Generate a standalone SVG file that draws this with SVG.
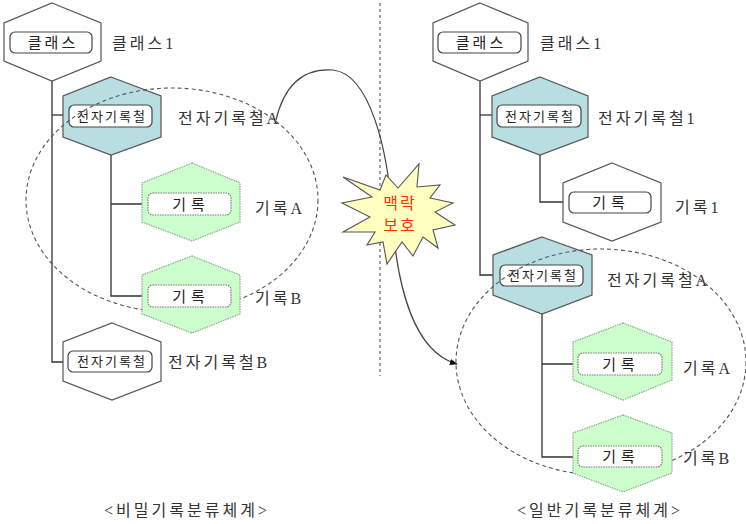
<svg xmlns="http://www.w3.org/2000/svg" width="746" height="524" viewBox="0 0 746 524">
<style>
.hex{fill:#ffffff;stroke:#555;stroke-width:1.2}
.teal{fill:#b8dee2;stroke:#555;stroke-width:1.2}
.green{fill:#ccffcc;stroke:#8aa88a;stroke-width:1.2;stroke-dasharray:1.5 1}
.box{fill:#fff;stroke:#444;stroke-width:1.2}
.gbox{fill:#fff;stroke:#777;stroke-width:1.2;stroke-dasharray:1.5 1}
.lbl{font-family:"Liberation Serif","Noto Sans CJK KR",serif;font-size:16px;fill:#333;letter-spacing:3px}
.bt{font-family:"Noto Sans CJK KR",sans-serif;font-size:15px;fill:#222;text-anchor:middle}
.bs{font-family:"Noto Sans CJK KR",sans-serif;font-size:13px;fill:#222;text-anchor:middle;letter-spacing:2px}
.con{fill:none;stroke:#333;stroke-width:1.3}
.ell{fill:none;stroke:#555;stroke-width:1.1;stroke-dasharray:4 3}
.cap{font-family:"Liberation Serif","Noto Sans CJK KR",serif;font-size:16px;fill:#333;letter-spacing:3px;text-anchor:middle}
.red{font-family:"Noto Sans CJK KR",sans-serif;font-size:16px;fill:#ff3300;text-anchor:middle;letter-spacing:2px}
</style>
<defs>
<marker id="arr" viewBox="0 0 10 10" refX="9" refY="5" markerWidth="8" markerHeight="8" orient="auto" markerUnits="userSpaceOnUse">
<path d="M0,1 L10,5 L0,9 Z" fill="#111"/>
</marker>
</defs>
<rect width="746" height="524" fill="#fff"/>

<line x1="380" y1="3" x2="380" y2="376" stroke="#666" stroke-width="1.2" stroke-dasharray="3 3"/>

<g id="connectors">
<path class="con" d="M52,53 V362 H68"/>
<path class="con" d="M52,115 H69"/>
<path class="con" d="M111,127 V296 H148"/>
<path class="con" d="M111,204 H148"/>
<path class="con" d="M480,53 V275 H500"/>
<path class="con" d="M480,115 H497"/>
<path class="con" d="M540,127 V202 H569"/>
<path class="con" d="M542,286 V457 H578"/>
<path class="con" d="M542,364 H578"/>
<path fill="none" stroke="#444" stroke-width="1.2" d="M276,120 C285,82 305,68 333,70 C370,74 388,150 392,215 C397,290 415,352 457,364" marker-end="url(#arr)"/>
</g>

<g id="left-class">
<polygon class="hex" points="52,3 101,23 101,61 52,81 4,61 4,23"/>
<rect class="box" x="10" y="32" width="82" height="21" rx="5"/>
<text class="bt" x="53" y="48" style="letter-spacing:3px">클래스</text>
<text class="lbl" x="112" y="49">클래스1</text>
</g>

<g id="left-fileA">
<polygon class="teal" points="111,77 161,96 161,137 111,155 63,137 63,96"/>
<rect class="box" x="69" y="105" width="83" height="22" rx="5"/>
<text class="bs" x="112" y="120.5">전자기록철</text>
<text class="lbl" x="178" y="124">전자기록철A</text>
</g>

<ellipse id="left-ellipse" class="ell" cx="172" cy="200" rx="146" ry="112"/>

<g id="left-recordA">
<polygon class="green" points="192,163 240,183 240,222 192,241 142,222 142,183"/>
<rect class="gbox" x="148" y="193" width="83" height="22" rx="5"/>
<text class="bt" x="191" y="209.5" style="letter-spacing:5px">기록</text>
<text class="lbl" x="255" y="214">기록A</text>
</g>

<g id="left-recordB">
<polygon class="green" points="192,256 240,275 240,314 192,333 142,314 142,275"/>
<rect class="gbox" x="148" y="285" width="83" height="22" rx="5"/>
<text class="bt" x="191" y="301.5" style="letter-spacing:5px">기록</text>
<text class="lbl" x="255" y="304">기록B</text>
</g>

<g id="left-fileB">
<polygon class="hex" points="112,323 161,342 161,381 112,400 63,381 63,342"/>
<rect class="box" x="68" y="351" width="84" height="21" rx="5"/>
<text class="bs" x="112" y="366">전자기록철</text>
<text class="lbl" x="168" y="368">전자기록철B</text>
</g>

<text id="left-caption" class="cap" x="187" y="516">&lt;비밀기록분류체계&gt;</text>

<g id="right-class">
<polygon class="hex" points="480,3 528,23 528,61 480,81 433,61 433,23"/>
<rect class="box" x="438" y="32" width="83" height="21" rx="5"/>
<text class="bt" x="481" y="48" style="letter-spacing:3px">클래스</text>
<text class="lbl" x="540" y="49">클래스1</text>
</g>

<g id="right-file1">
<polygon class="teal" points="540,77 588,96 588,137 540,155 492,137 492,96"/>
<rect class="box" x="497" y="105" width="84" height="22" rx="5"/>
<text class="bs" x="540" y="120.5">전자기록철</text>
<text class="lbl" x="598" y="124">전자기록철1</text>
</g>

<g id="right-record1">
<polygon class="hex" points="612,163 661,183 661,222 612,241 563,222 563,183"/>
<rect class="box" x="569" y="192" width="82" height="21" rx="5"/>
<text class="bt" x="611" y="208" style="letter-spacing:5px">기록</text>
<text class="lbl" x="675" y="213">기록1</text>
</g>

<g id="right-fileA">
<polygon class="teal" points="542,237 592,255 592,295 542,314 493,295 493,255"/>
<rect class="box" x="500" y="265" width="83" height="21" rx="5"/>
<text class="bs" x="543" y="280">전자기록철</text>
<text class="lbl" x="607" y="286">전자기록철A</text>
</g>

<ellipse id="right-ellipse" class="ell" cx="601" cy="362" rx="145" ry="113"/>

<g id="right-recordA">
<polygon class="green" points="623,323 672,342 672,380 623,400 573,380 573,342"/>
<rect class="gbox" x="578" y="353" width="84" height="22" rx="5"/>
<text class="bt" x="621" y="369.5" style="letter-spacing:5px">기록</text>
<text class="lbl" x="683" y="374">기록A</text>
</g>

<g id="right-recordB">
<polygon class="green" points="623,415 672,433 672,473 623,492 573,473 573,433"/>
<rect class="gbox" x="578" y="446" width="84" height="21" rx="5"/>
<text class="bt" x="621" y="461.5" style="letter-spacing:5px">기록</text>
<text class="lbl" x="683" y="464">기록B</text>
</g>

<text id="right-caption" class="cap" x="600" y="516">&lt;일반기록분류체계&gt;</text>

<g id="context-protection">
<polygon fill="#ffffc0" stroke="#555" stroke-width="1.1" points="343,177 380,190 386,175 398,188 419,164 417,187 440,185 430,198 453,203 435,212 455,225 433,230 438,248 423,237 413,256 402,242 387,264 383,242 367,245 375,232 343,232 370,217 342,203 372,197"/>
<text class="red" x="400" y="209">맥락</text>
<text class="red" x="400" y="231">보호</text>
</g>
</svg>
